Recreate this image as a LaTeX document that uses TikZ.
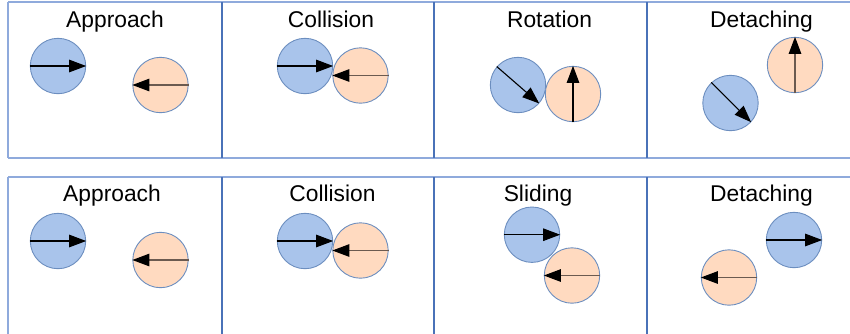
\documentclass[tikz,border=0pt]{standalone}
\usepackage{fontspec}
\setmainfont{Liberation Sans}
\usetikzlibrary{arrows.meta}
\definecolor{ballblue}{HTML}{A9C4EB}
\definecolor{ballorange}{HTML}{FFDAC0}
\definecolor{ballstroke}{HTML}{6C8EBF}
\definecolor{lightline}{HTML}{8FAADC}
\definecolor{darkline}{HTML}{4A72B8}
\definecolor{brownline}{HTML}{6B5A50}
\tikzset{
  ball/.style={circle, minimum size=55.4pt, inner sep=0pt, draw=ballstroke, line width=0.9pt},
  bball/.style={ball, fill=ballblue},
  oball/.style={ball, fill=ballorange},
  mv/.style={-{Triangle[length=17pt,width=12.5pt,color=black]}, line width=1.1pt, draw=black},
  omv/.style={mv, draw=brownline},
  hl/.style={draw=lightline, line width=1.3pt},
  vl/.style={draw=darkline, line width=1.1pt},
  ttl/.style={anchor=base, inner sep=0pt, font=\fontsize{22.8}{27}\selectfont}
}
\begin{document}
\begin{tikzpicture}[x=1pt,y=-1pt]
\useasboundingbox (0,0) rectangle (850,333);
% table lines
\coordinate (r1tl) at (8,2);
\coordinate (r1tr) at (851,2);
\coordinate (r1bl) at (8,158);
\coordinate (r1br) at (851,158);
\coordinate (r2tl) at (8,177);
\coordinate (r2tr) at (851,177);
\coordinate (r2bl) at (8,334);
\draw[hl] (r1tl) -- (r1tr);
\draw[hl] (r1bl) -- (r1br);
\draw[hl] (r2tl) -- (r2tr);
\draw[hl] (r1tl) -- (r1bl);
\draw[hl] (r2tl) -- (r2bl);
\foreach \x/\n in {222/a,434/b,647/c}{
  \coordinate (t\n) at (\x,2);
  \coordinate (m\n) at (\x,158);
  \coordinate (u\n) at (\x,177);
  \coordinate (d\n) at (\x,334);
  \draw[vl] (t\n) -- (m\n);
  \draw[vl] (u\n) -- (d\n);
}
% titles
\node[ttl] (t1) at (115,27) {Approach};
\node[ttl] (t2) at (331,27) {Collision};
\node[ttl] (t3) at (549.5,27) {Rotation};
\node[ttl] (t4) at (761.5,27) {Detaching};
\node[ttl] (t5) at (112,201) {Approach};
\node[ttl] (t6) at (332.5,201) {Collision};
\node[ttl] (t7) at (538,201) {Sliding};
\node[ttl] (t8) at (761.5,201) {Detaching};
% row 1
\node[bball] (b1) at (58,66) {};
\node[oball] (o1) at (160.5,85) {};
\draw[mv] (b1.west) -- (b1.east);
\draw[omv] (o1.east) -- (o1.west);
\node[bball] (b2) at (305,66) {};
\node[oball] (o2) at (360.5,75.5) {};
\draw[mv] (b2.west) -- (b2.east);
\draw[omv] (o2.east) -- (o2.west);
\node[bball] (b3) at (518,85) {};
\node[oball] (o3) at (573,94) {};
\draw[mv] (b3.139) -- (b3.-41);
\draw[mv] (o3.south) -- (o3.north);
\node[oball] (o4) at (795,65) {};
\node[bball] (b4) at (730.5,103) {};
\draw[mv] (b4.133) -- (b4.-43);
\draw[omv] (o4.south) -- (o4.north);
% row 2
\node[bball] (b5) at (58,241) {};
\node[oball] (o5) at (160.5,260) {};
\draw[mv] (b5.west) -- (b5.east);
\draw[omv] (o5.east) -- (o5.west);
\node[bball] (b6) at (305,241) {};
\node[oball] (o6) at (360.5,250.5) {};
\draw[mv] (b6.west) -- (b6.east);
\draw[omv] (o6.east) -- (o6.west);
\node[bball] (b7) at (532,234.7) {};
\node[oball] (o7) at (572,275.5) {};
\draw[mv] (b7.west) -- (b7.east);
\draw[omv] (o7.east) -- (o7.west);
\node[bball] (b8) at (794,240) {};
\node[oball] (o8) at (729,277.5) {};
\draw[mv] (b8.west) -- (b8.east);
\draw[omv] (o8.east) -- (o8.west);
\end{tikzpicture}
\end{document}
